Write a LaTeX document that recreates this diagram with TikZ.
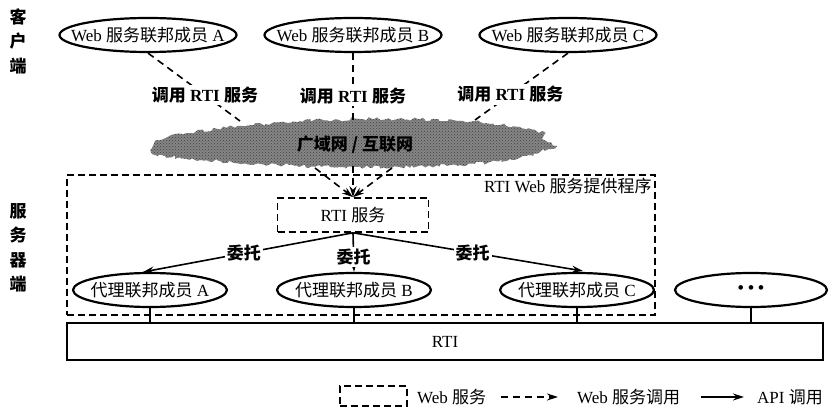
\documentclass[tikz,border=0pt]{standalone}
\usepackage{fontspec}
\setmainfont{Liberation Serif}
\newfontfamily\cjk{Noto Sans CJK SC}
\newcommand{\zh}[1]{{\cjk #1}}
\usetikzlibrary{shapes.geometric,arrows.meta,decorations.pathmorphing,patterns}
\begin{document}
\begin{tikzpicture}[x=1pt,y=-1pt,
  every node/.style={font=\fontsize{17}{19}\selectfont},
  ell/.style={draw, ellipse, line width=2.2pt, inner sep=0pt, minimum width=#1, minimum height=34pt},
  ell/.default=154pt,
  dbox/.style={draw, dash pattern=on 7pt off 4pt, line width=1.6pt},
  dline/.style={dash pattern=on 7pt off 5pt, line width=1.6pt},
  lbl/.style={fill=white, inner sep=2pt, font=\fontsize{17}{19}\selectfont\bfseries},
  side/.style={align=center, font=\fontsize{17}{24.5}\selectfont\bfseries},
  arr/.style={-{Stealth[length=11pt,width=7pt]}, line width=1.6pt}
]
\useasboundingbox (0,0) rectangle (831,409);

% side labels
\node[side] (client) at (18,41) {\zh{客}\\\zh{户}\\\zh{端}};
\node[side] (server) at (18,248) {\zh{服}\\\zh{务}\\\zh{器}\\\zh{端}};

% web federates
\node[ell=177pt] (wa) at (148,35) {\makebox[0pt]{Web \zh{服务联邦成员} A}};
\node[ell=177pt] (wb) at (353,35) {\makebox[0pt]{Web \zh{服务联邦成员} B}};
\node[ell=177pt] (wc) at (568,35) {\makebox[0pt]{Web \zh{服务联邦成员} C}};

% cloud
\fill[black!48, decorate, decoration={random steps, segment length=3pt, amplitude=1.8pt},
      postaction={pattern=crosshatch dots, pattern color=black!75}]
  (150,150) -- (156,140) -- (175,134) -- (240,126) -- (300,121) -- (360,119)
  -- (420,119) -- (480,122) -- (520,127) -- (546,133) -- (542,139) -- (557,146)
  -- (540,152) -- (515,160) -- (460,165) -- (400,167) -- (330,167)
  -- (260,164) -- (200,160) -- (165,156) -- (152,154) -- cycle;
\node[font=\fontsize{17}{19}\selectfont\bfseries] (cloud) at (355,145) {\zh{广域网 / 互联网}};

\coordinate (ca) at (240,121);
\coordinate (cb) at (353,120);
\coordinate (cc) at (475,120);
\draw[dline] (wa.south) -- node[lbl, pos=0.62] (la) {\zh{调用} RTI \zh{服务}} (ca);
\draw[dline] (wb.south) -- node[lbl, pos=0.64] (lb) {\zh{调用} RTI \zh{服务}} (cb);
\draw[dline] (wc.south) -- node[lbl, pos=0.62] (lc) {\zh{调用} RTI \zh{服务}} (cc);

% provider box
\node[dbox, minimum width=588pt, minimum height=140pt] (prov) at (361,245) {};
\node[anchor=north east, inner sep=4pt] (provlbl) at (prov.north east) {RTI Web \zh{服务提供程序}};

% RTI service box
\node[dbox, minimum width=151pt, minimum height=34pt] (rtis) at (353,215) {RTI \zh{服务}};

\coordinate (k1) at (315,168);
\coordinate (k2) at (353,166);
\coordinate (k3) at (392,168);
\draw[dline, arr] (k1) -- (rtis.north);
\draw[dline, arr] (k2) -- (rtis.north);
\draw[dline, arr] (k3) -- (rtis.north);

% agent federates
\node[ell] (pa) at (150,290) {\makebox[0pt]{\zh{代理联邦成员} A}};
\node[ell] (pb) at (354,290) {\makebox[0pt]{\zh{代理联邦成员} B}};
\node[ell] (pc) at (577,290) {\makebox[0pt]{\zh{代理联邦成员} C}};
\node[ell=152pt] (pd) at (751,290) {\makebox[0pt]{\textbf{• • •}}};

\coordinate (ta) at (143,272);
\coordinate (tc) at (583,271);
\draw[arr] (rtis.south) -- node[lbl, pos=0.52] (da) {\zh{委托}} (ta);
\draw[arr] (rtis.south) -- node[lbl, pos=0.62] (db) {\zh{委托}} (pb.north);
\draw[arr] (rtis.south) -- node[lbl, pos=0.52] (dc) {\zh{委托}} (tc);

% RTI bar
\node[draw, line width=1.8pt, minimum width=756pt, minimum height=37pt] (rti) at (445,341.5) {RTI};
\draw[line width=1.4pt] (pa.south) -- (pa.south |- rti.north);
\draw[line width=1.4pt] (pb.south) -- (pb.south |- rti.north);
\draw[line width=1.4pt] (pc.south) -- (pc.south |- rti.north);
\draw[line width=1.4pt] (pd.south) -- (pd.south |- rti.north);

% legend
\node[dbox, minimum width=67pt, minimum height=20pt] (lgbox) at (373.5,396) {};
\node[anchor=west, inner sep=0pt] (lgweb) at (417,397) {Web \zh{服务}};
\coordinate (lg1) at (501,397);
\coordinate (lg2) at (558,397);
\draw[dline, arr] (lg1) -- (lg2);
\node[anchor=west, inner sep=0pt] (lgcall) at (577,397) {Web \zh{服务调用}};
\coordinate (lg3) at (701,397);
\coordinate (lg4) at (744,397);
\draw[arr] (lg3) -- (lg4);
\node[anchor=west, inner sep=0pt] (lgapi) at (757,397) {API \zh{调用}};
\end{tikzpicture}
\end{document}
